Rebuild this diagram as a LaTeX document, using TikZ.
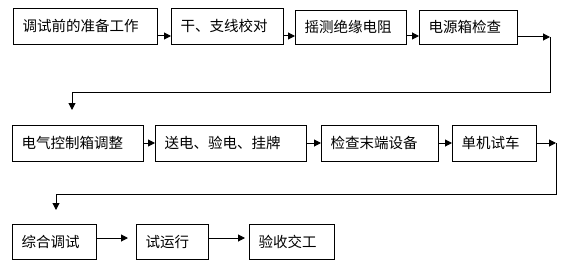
\documentclass[tikz,border=0pt]{standalone}
\usepackage{fontspec}
\setmainfont{Noto Sans CJK SC}
\usetikzlibrary{arrows.meta}
\tikzset{
  box/.style={draw, line width=1pt, rectangle, anchor=north west, inner xsep=9pt, inner ysep=0pt,
    align=left, font=\fontsize{14.5}{17}\selectfont},
  arr/.style={line width=1pt, -{Triangle[length=7pt,width=7pt]}},
  ln/.style={line width=1pt}
}
\newcommand{\bt}[1]{\raisebox{2pt}{#1}}
\begin{document}
\begin{tikzpicture}[x=1pt,y=-1pt]
\useasboundingbox (0,0) rectangle (569,270);
% row 1
\node[box, minimum height=36pt, text width=126pt] (b1) at (13,8) {\bt{调试前的准备工作}};
\node[box, minimum height=36pt, text width=94pt] (b2) at (171,8) {\bt{干、支线校对}};
\node[box, minimum height=34pt, text width=93pt] (b3) at (295,10) {\bt{摇测绝缘电阻}};
\node[box, minimum height=34pt, text width=80pt] (b4) at (419,10) {\bt{电源箱检查}};
% row 2
\node[box, minimum height=36pt, text width=113pt] (b5) at (12,125) {\bt{电气控制箱调整}};
\node[box, minimum height=36pt, text width=133pt] (b6) at (155,125) {\bt{送电、验电、挂牌}};
\node[box, minimum height=36pt, text width=99pt] (b7) at (321,125) {\bt{检查末端设备}};
\node[box, minimum height=36pt, text width=66pt] (b8) at (452,125) {\bt{单机试车}};
% row 3
\node[box, minimum height=35pt, text width=66pt] (b9) at (12,224) {\bt{综合调试}};
\node[box, minimum height=35pt, text width=54pt] (b10) at (136,224) {\bt{试运行}};
\node[box, minimum height=35pt, text width=67pt] (b11) at (249,224) {\bt{验收交工}};
% guide coordinates
\coordinate (r1) at (0,36);
\coordinate (r2) at (0,143);
\coordinate (r3) at (0,238);
\coordinate (c1) at (550,37);
\coordinate (c2) at (72,92);
\coordinate (c3) at (72,110);
\coordinate (c4) at (556,143);
\coordinate (c5) at (56,194);
\coordinate (c6) at (56,210);
% connectors row 1
\draw[arr] (b1.east |- r1) -- (b2.west |- r1);
\draw[arr] (b2.east |- r1) -- (b3.west |- r1);
\draw[arr] (b3.east |- r1) -- (b4.west |- r1);
\draw[arr] (b4.east |- c1) -- (c1);
\draw[arr] (c1) |- (c2) -- (c3);
% connectors row 2
\draw[arr] (b5.east |- r2) -- (b6.west |- r2);
\draw[arr] (b6.east |- r2) -- (b7.west |- r2);
\draw[arr] (b7.east |- r2) -- (b8.west |- r2);
\draw[arr] (b8.east |- c4) -- (c4);
\draw[arr] (c4) |- (c5) -- (c6);
% connectors row 3
\draw[arr, shorten >=8pt] (b9.east |- r3) -- (b10.west |- r3);
\draw[arr, shorten >=4pt] (b10.east |- r3) -- (b11.west |- r3);
\end{tikzpicture}
\end{document}
